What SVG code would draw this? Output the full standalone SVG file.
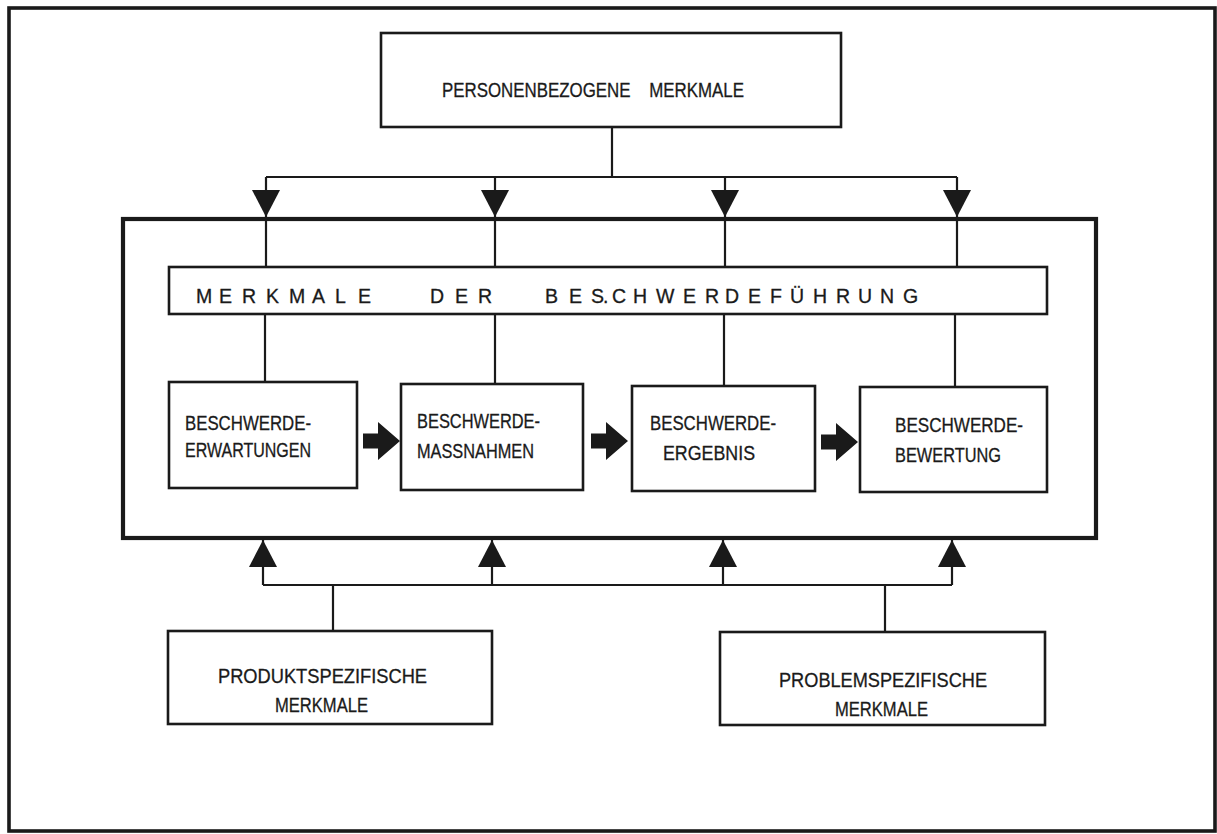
<svg xmlns="http://www.w3.org/2000/svg" xmlns:xlink="http://www.w3.org/1999/xlink" width="1217" height="834" viewBox="0 0 1217 834">
<style>
.box{fill:#fff;stroke:#1a1a1a;stroke-width:2.6}
.big{fill:none;stroke:#1a1a1a;stroke-width:4.2}
.frame{fill:none;stroke:#1a1a1a;stroke-width:3.6}
.con{fill:none;stroke:#1a1a1a;stroke-width:2.2}
.t{font-family:"Liberation Sans","DejaVu Sans",sans-serif;font-size:20px;fill:#1a1a1a;stroke:#1a1a1a;stroke-width:0.3}
.sp{font-family:"Liberation Sans","DejaVu Sans",sans-serif;font-size:19.5px;fill:#1a1a1a;stroke:#1a1a1a;stroke-width:0.3}
</style>
<defs>
<marker id="ah" markerUnits="userSpaceOnUse" markerWidth="28" markerHeight="28" viewBox="0 0 28 28" refX="27" refY="14" orient="auto">
<path d="M0 0 L27 14 L0 28 Z" fill="#1a1a1a"/>
</marker>
<path id="blk" d="M0 -7.5 H15 V-19 L37 0 L15 19 V7.5 H0 Z" fill="#1a1a1a"/>
</defs>
<rect width="1217" height="834" fill="#fff"/>
<rect class="frame" x="9" y="8" width="1206" height="823"/>

<g id="big-frame">
<rect class="big" x="123" y="219" width="973" height="319"/>
</g>

<g id="connectors">
<path class="con" d="M612 127 V177 M266 177 H957"/>
<path class="con" d="M266 177 V217" marker-end="url(#ah)"/>
<path class="con" d="M495 177 V217" marker-end="url(#ah)"/>
<path class="con" d="M725 177 V217" marker-end="url(#ah)"/>
<path class="con" d="M957 177 V217" marker-end="url(#ah)"/>
<path class="con" d="M266 219 V268 M495 219 V268 M725 219 V268 M957 219 V268"/>
<path class="con" d="M265 314 V382 M495 314 V384 M724 315 V386 M955 315 V387"/>
<use xlink:href="#blk" x="363" y="441"/>
<use xlink:href="#blk" x="591" y="441"/>
<use xlink:href="#blk" x="821" y="442"/>
<path class="con" d="M333 631 V585 M885 632 V585 M263 585 H952"/>
<path class="con" d="M263 585 V540" marker-end="url(#ah)"/>
<path class="con" d="M492 585 V540" marker-end="url(#ah)"/>
<path class="con" d="M723 585 V540" marker-end="url(#ah)"/>
<path class="con" d="M952 585 V540" marker-end="url(#ah)"/>
</g>

<g id="personenbezogene">
<rect class="box" x="381" y="33" width="460" height="94"/>
<text class="t" x="442" y="97" xml:space="preserve" textLength="302" lengthAdjust="spacingAndGlyphs">PERSONENBEZOGENE    MERKMALE</text>
</g>

<g id="merkmale-beschwerdefuehrung">
<rect class="box" x="169" y="267" width="878" height="47"/>
<text class="sp" x="196 219 242 266 289 312 335 358" y="303">MERKMALE</text>
<text class="sp" x="430 455 478" y="303">DER</text>
<text class="sp" x="545 569 591 603 612 633 656 683 705 725 748 770 790 813 836 858 880 903" y="303">BES.CHWERDEFÜHRUNG</text>
</g>

<g id="erwartungen">
<rect class="box" x="169" y="382" width="188" height="106"/>
<text class="t" x="185" y="430" textLength="126" lengthAdjust="spacingAndGlyphs">BESCHWERDE-</text>
<text class="t" x="185" y="457" textLength="126" lengthAdjust="spacingAndGlyphs">ERWARTUNGEN</text>
</g>

<g id="massnahmen">
<rect class="box" x="401" y="384" width="182" height="106"/>
<text class="t" x="417" y="428" textLength="123" lengthAdjust="spacingAndGlyphs">BESCHWERDE-</text>
<text class="t" x="417" y="458" textLength="117" lengthAdjust="spacingAndGlyphs">MASSNAHMEN</text>
</g>

<g id="ergebnis">
<rect class="box" x="632" y="386" width="183" height="105"/>
<text class="t" x="650" y="430" textLength="126" lengthAdjust="spacingAndGlyphs">BESCHWERDE-</text>
<text class="t" x="663" y="460" textLength="92" lengthAdjust="spacingAndGlyphs">ERGEBNIS</text>
</g>

<g id="bewertung">
<rect class="box" x="860" y="387" width="187" height="105"/>
<text class="t" x="895" y="432" textLength="128" lengthAdjust="spacingAndGlyphs">BESCHWERDE-</text>
<text class="t" x="895" y="462" textLength="106" lengthAdjust="spacingAndGlyphs">BEWERTUNG</text>
</g>

<g id="produktspezifische">
<rect class="box" x="168" y="631" width="324" height="93"/>
<text class="t" x="218" y="683" textLength="209" lengthAdjust="spacingAndGlyphs">PRODUKTSPEZIFISCHE</text>
<text class="t" x="275" y="712" textLength="93" lengthAdjust="spacingAndGlyphs">MERKMALE</text>
</g>

<g id="problemspezifische">
<rect class="box" x="720" y="632" width="325" height="93"/>
<text class="t" x="779" y="687" textLength="208" lengthAdjust="spacingAndGlyphs">PROBLEMSPEZIFISCHE</text>
<text class="t" x="835" y="716" textLength="93" lengthAdjust="spacingAndGlyphs">MERKMALE</text>
</g>
</svg>
